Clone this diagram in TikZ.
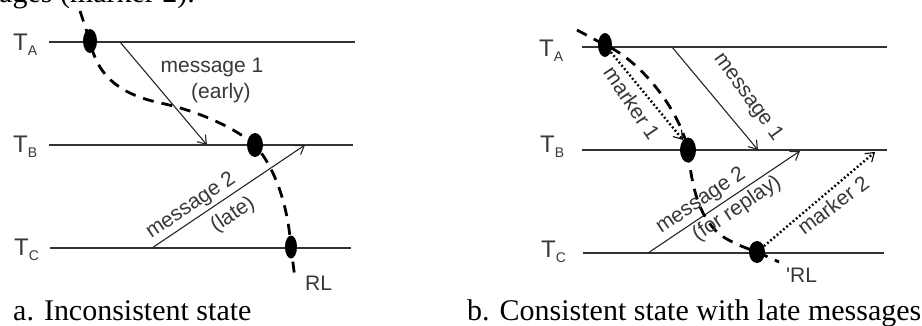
\documentclass[tikz,border=0pt]{standalone}
\usepackage{fontspec}
\setmainfont{Liberation Serif}
\newfontfamily\labfont{Liberation Sans}
\usetikzlibrary{arrows.meta,shapes.geometric}
\newcommand\thrsub[1]{\raisebox{-5pt}{\fontsize{14}{14}\selectfont #1}}
\begin{document}
\begin{tikzpicture}[x=1pt,y=-1pt,
  thread/.style={draw=black!80,line width=1.3pt},
  msgarrow/.style={draw=black!85,line width=1.1pt,-{Straight Barb[length=8pt,width=11pt,line width=1.1pt]}},
  markarrow/.style={draw=black,line width=2.4pt,dash pattern=on 1.8pt off 2.4pt,-{Straight Barb[length=8pt,width=11pt,line width=1.1pt]}},
  cutline/.style={draw=black,line width=2.8pt,dash pattern=on 11pt off 8pt},
  evt/.style={ellipse,fill=black,inner sep=0pt,minimum width=14pt,minimum height=24pt},
  lbl/.style={font=\labfont\fontsize{21}{24}\selectfont,text=black!78,inner sep=0pt},
  tname/.style={font=\labfont\fontsize{24}{26}\selectfont,text=black!78,inner sep=0pt,anchor=base west},
  capt/.style={font=\fontsize{30}{34}\selectfont,inner sep=0pt,anchor=base west}]
\useasboundingbox (0,0) rectangle (922,325);
\fill[white] (0,0) rectangle (922,325);
\clip (0,0) rectangle (922,325);

% cut-off text at the top
\node[capt] (toptext) at (-1,2.5) {ages (marker 2).};

% ---------------- panel a ----------------
\coordinate (aA0) at (49,42);  \coordinate (aA1) at (355,42);
\coordinate (aB0) at (49,145); \coordinate (aB1) at (353,145);
\coordinate (aC0) at (50,248); \coordinate (aC1) at (351,248);
\draw[thread] (aA0) -- (aA1);
\draw[thread] (aB0) -- (aB1);
\draw[thread] (aC0) -- (aC1);
\node[tname] (laA) at (13,50) {T\thrsub{A}};
\node[tname] (laB) at (13,152) {T\thrsub{B}};
\node[tname] (laC) at (14,255) {T\thrsub{C}};

\coordinate (am1s) at (120,42); \coordinate (am1e) at (207,145);
\coordinate (am2s) at (152,248); \coordinate (am2e) at (305,145);
\draw[msgarrow] (am1s) -- (am1e);
\draw[msgarrow] (am2s) -- (am2e);

\node[evt] (da1) at (90,41) {};
\node[evt,minimum width=16pt] (da2) at (255,145) {};
\node[evt,minimum width=12pt,minimum height=23pt] (da3) at (291,247) {};
\coordinate (acut0) at (80,11);
\coordinate (acut1) at (295,279);
\draw[cutline] (acut0) -- (da1.center)
  .. controls (98,80) and (125,96) .. (165,104)
  .. controls (200,112) and (235,128) .. (da2.center)
  .. controls (270,162) and (287,195) .. (da3.center) -- (acut1);

\node[lbl,anchor=base] (am1t) at (212,72) {message 1};
\node[lbl,anchor=base] (am1u) at (221,98) {(early)};
\node[lbl,rotate=34] (am2t) at (191,206) {message 2};
\node[lbl,rotate=34] (am2u) at (233,215) {(late)};
\node[lbl,anchor=base west] (rla) at (305,290) {RL};

\node[capt] (capa) at (13,320) {a. Inconsistent state};

% ---------------- panel b ----------------
\coordinate (bA0) at (582,47);  \coordinate (bA1) at (887,47);
\coordinate (bB0) at (582,150); \coordinate (bB1) at (887,150);
\coordinate (bC0) at (583,253); \coordinate (bC1) at (884,253);
\draw[thread] (bA0) -- (bA1);
\draw[thread] (bB0) -- (bB1);
\draw[thread] (bC0) -- (bC1);
\node[tname] (lbA) at (539,56) {T\thrsub{A}};
\node[tname] (lbB) at (540,152) {T\thrsub{B}};
\node[tname] (lbC) at (541,257) {T\thrsub{C}};

\node[evt] (db1) at (605,45) {};
\node[evt,minimum width=16pt,minimum height=25pt] (db2) at (688,150) {};
\node[evt,minimum width=16pt,minimum height=22pt] (db3) at (757,252) {};

\coordinate (bm1s) at (672,47);  \coordinate (bm1e) at (758,150);
\coordinate (bm2s) at (648,253); \coordinate (bm2e) at (800,151);
\coordinate (bk1e) at (683,140);
\coordinate (bk2e) at (875,152);
\draw[msgarrow] (bm1s) -- (bm1e);
\draw[msgarrow] (bm2s) -- (bm2e);
\draw[markarrow] (db1) -- (bk1e);
\draw[markarrow] (db3) -- (bk2e);

\coordinate (bcut0) at (577,30);
\coordinate (bcut1) at (779,262);
\draw[cutline] (bcut0) -- (db1.center)
  .. controls (640,60) and (680,110) .. (db2.center)
  .. controls (692,190) and (700,222) .. (725,238)
  .. controls (737,245) and (746,248) .. (db3.center) -- (bcut1);

\node[lbl,rotate=-56] (bk1t) at (632,103) {marker 1};
\node[lbl,rotate=-54] (bm1t) at (748,97) {message 1};
\node[lbl,rotate=34] (bm2t) at (701,201) {message 2};
\node[lbl,rotate=34] (bm2u) at (737,209) {(for replay)};
\node[lbl,rotate=37] (bk2t) at (833,205) {marker 2};
\node[lbl,anchor=base west] (rlb) at (786,282) {'RL};

\node[capt] (capb) at (467,320) {b. Consistent state with late messages};
\end{tikzpicture}
\end{document}
